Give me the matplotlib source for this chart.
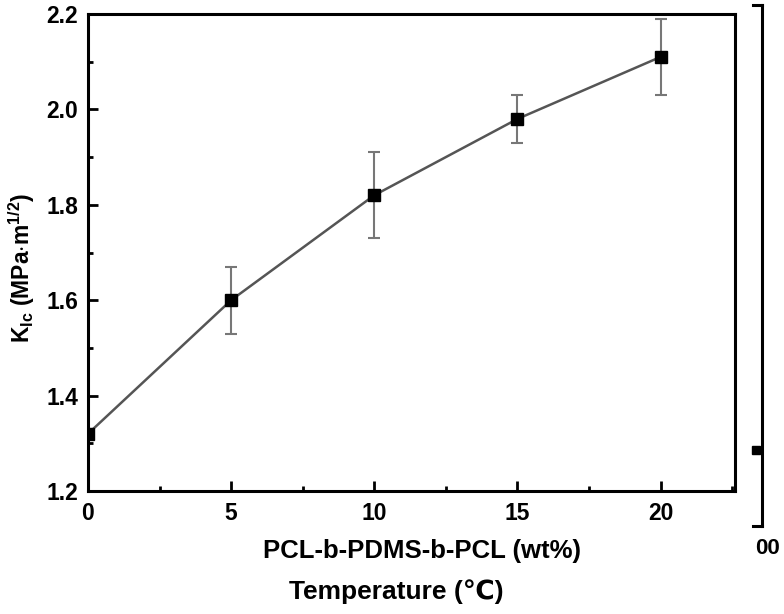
import numpy as np
import matplotlib
matplotlib.use('Agg')
import matplotlib.pyplot as plt
from matplotlib.ticker import MultipleLocator

plt.rcParams['font.family'] = ['Liberation Sans', 'DejaVu Sans']
plt.rcParams['font.weight'] = 'bold'
plt.rcParams['mathtext.fontset'] = 'custom'
plt.rcParams['mathtext.rm'] = 'Liberation Sans:bold'
plt.rcParams['mathtext.it'] = 'Liberation Sans:bold'
plt.rcParams['mathtext.bf'] = 'Liberation Sans:bold'

# data
content = [0, 5, 10, 15, 20]          # PCL-b-PDMS-b-PCL wt%
kic     = [1.32, 1.60, 1.82, 1.98, 2.11]
kic_err = [0.01, 0.07, 0.09, 0.05, 0.08]

fig = plt.figure(figsize=(7.84, 6.14), dpi=100)
ax = fig.add_axes([88 / 784, 1 - 491 / 614, (735 - 88) / 784, (491 - 14) / 614])

ax.errorbar(content, kic, yerr=kic_err, fmt='none', ecolor='#777777',
            elinewidth=1.5, capsize=4, capthick=1.5, zorder=2)
ax.plot(content, kic, color='#555555', linewidth=1.8, zorder=3)
ax.plot(content, kic, 's', color='black', markersize=8, zorder=4)

ax.set_xlim(0, 22.6)
ax.set_ylim(1.2, 2.2)
ax.xaxis.set_major_locator(MultipleLocator(5))
ax.xaxis.set_minor_locator(MultipleLocator(2.5))
ax.yaxis.set_major_locator(MultipleLocator(0.2))
ax.yaxis.set_minor_locator(MultipleLocator(0.1))
ax.yaxis.set_major_formatter(plt.FormatStrFormatter('%.1f'))

for s in ax.spines.values():
    s.set_linewidth(2.2)
ax.tick_params(which='both', direction='in', top=False, right=False, width=2)
ax.tick_params(which='major', length=7, labelsize=16.5)
ax.tick_params(axis='y', which='major', pad=7)
ax.tick_params(axis='x', which='major', pad=8)
ax.tick_params(which='minor', length=3.5)

fig.text(22 / 784, 1 - 268 / 614, r'K$_{Ic}$ (MPa$\cdot$m$^{1/2}$)', rotation=90,
         ha='center', va='center', fontsize=16.5, fontweight='bold')
fig.text(422 / 784, 1 - 551 / 614, 'PCL-b-PDMS-b-PCL (wt%)',
         ha='center', va='center', fontsize=18.5, fontweight='bold')
fig.text(396 / 784, 1 - 592 / 614, 'Temperature (\u2103)', ha='center', va='center',
         fontsize=19, fontweight='bold')

# leftover bracket from an overlapping panel on the right
ax2 = fig.add_axes([753 / 784, 1 - 526 / 614, 9 / 784, (526 - 5) / 614])
ax2.set_xlim(0, 1)
ax2.set_ylim(0, 1)
ax2.spines['left'].set_visible(False)
for s in ['top', 'bottom', 'right']:
    ax2.spines[s].set_linewidth(2.2)
ax2.set_xticks([])
ax2.set_yticks([])
ax2.patch.set_alpha(0)
ax2.plot([0.35], [0.145], 's', color='black', markersize=6, clip_on=False)
fig.text(768 / 784, 1 - 548 / 614, '00', ha='center', va='center',
         fontsize=16, fontweight='bold')

fig.savefig('out.png', dpi=100)
